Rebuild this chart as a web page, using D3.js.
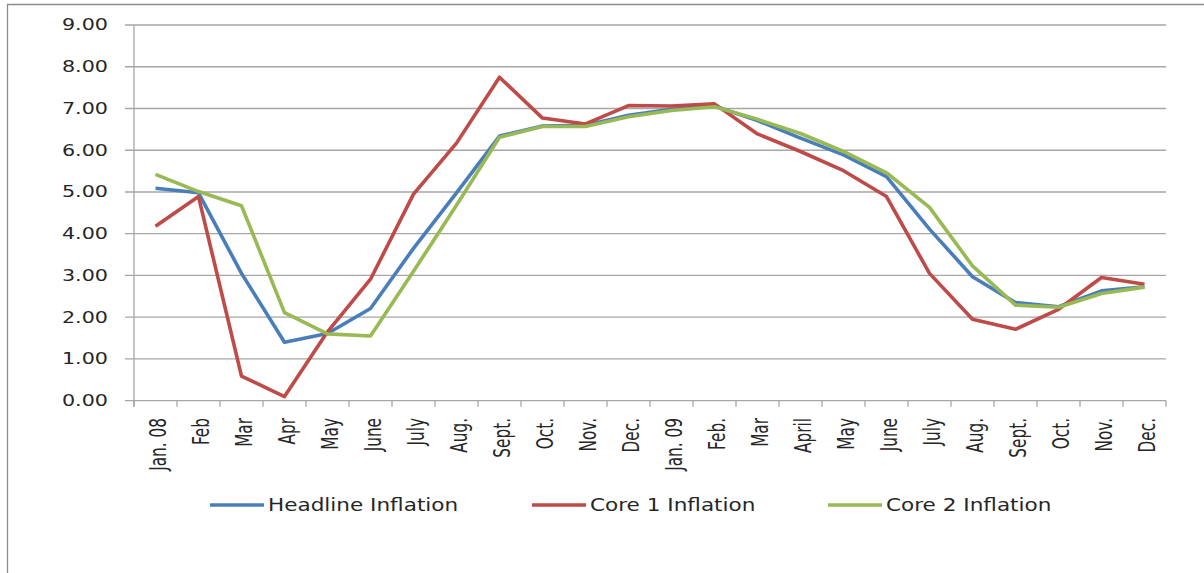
<!DOCTYPE html>
<html>
<head>
<meta charset="utf-8">
<script src="https://cdn.jsdelivr.net/npm/d3@7/dist/d3.min.js"></script>
<style>
  html, body { margin: 0; padding: 0; background: #fff; }
  svg { display: block; }
  text { font-family: "DejaVu Sans", Verdana, sans-serif; fill: #262626; }
</style>
</head>
<body>
<svg id="chart" width="1204" height="573"></svg>
<script>
const categories = ["Jan. 08","Feb","Mar","Apr","May","June","July","Aug.","Sept.","Oct.","Nov.","Dec.",
                    "Jan. 09","Feb.","Mar","April","May","June","July","Aug.","Sept.","Oct.","Nov.","Dec."];
const headline = [5.09,4.98,3.05,1.40,1.61,2.21,3.65,4.98,6.34,6.58,6.60,6.84,
                  6.98,7.06,6.71,6.29,5.89,5.37,4.11,2.97,2.35,2.25,2.63,2.73];
const core1    = [4.18,4.89,0.59,0.10,1.65,2.91,4.95,6.17,7.75,6.77,6.63,7.07,
                  7.06,7.11,6.39,5.97,5.51,4.89,3.05,1.95,1.71,2.19,2.95,2.79];
const core2    = [5.42,5.01,4.67,2.11,1.60,1.55,3.10,4.68,6.31,6.57,6.57,6.80,
                  6.95,7.04,6.74,6.40,5.97,5.46,4.63,3.23,2.29,2.24,2.57,2.72];
const yTicks   = [0,1,2,3,4,5,6,7,8,9];
const seriesNames = ["Headline Inflation","Core 1 Inflation","Core 2 Inflation"];

const series = [
  {name: seriesNames[0], values: headline, color: "#4A7EBB"},
  {name: seriesNames[1], values: core1,    color: "#BE4B48"},
  {name: seriesNames[2], values: core2,    color: "#98B954"}
];

const svg = d3.select("#chart");
const pLeft = 134, pRight = 1166, pTop = 25, pBottom = 400.7;
const idx = categories.map((c, i) => i);
const x = d3.scaleBand().domain(idx).range([pLeft, pRight]);
const y = d3.scaleLinear().domain([0, 9]).range([pBottom, pTop]);

// outer frame
svg.append("line").attr("x1", 7).attr("x2", 1204).attr("y1", 4.5).attr("y2", 4.5)
  .attr("stroke", "#8c8c8c").attr("stroke-width", 1.3);
svg.append("line").attr("x1", 7.5).attr("x2", 7.5).attr("y1", 4).attr("y2", 573)
  .attr("stroke", "#8c8c8c").attr("stroke-width", 1.3);

// gridlines
svg.append("g").selectAll("line").data(yTicks).join("line")
  .attr("x1", pLeft - 9).attr("x2", pRight)
  .attr("y1", d => y(d)).attr("y2", d => y(d))
  .attr("stroke", "#a6a6a6").attr("stroke-width", 1.3);

// y axis line
svg.append("line").attr("x1", pLeft).attr("x2", pLeft).attr("y1", y(9)).attr("y2", y(0) + 6)
  .attr("stroke", "#a6a6a6").attr("stroke-width", 1.3);

// y labels
svg.append("g").selectAll("text").data(yTicks).join("text")
  .attr("transform", d => `translate(108,${y(d)}) scale(1.38,1)`)
  .attr("text-anchor", "end").attr("dy", "0.36em")
  .style("font-size", "15px")
  .text(d => d3.format(".2f")(d));

// x ticks at band boundaries
const boundaries = idx.map(i => x(i)).concat([pRight]);
svg.append("g").selectAll("line").data(boundaries).join("line")
  .attr("x1", d => d).attr("x2", d => d)
  .attr("y1", y(0)).attr("y2", y(0) + 6)
  .attr("stroke", "#a6a6a6").attr("stroke-width", 1.3);

// x labels (rotated)
svg.append("g").selectAll("text").data(idx).join("text")
  .attr("transform", i => `translate(${x(i) + x.bandwidth() / 2 + 2},418) scale(1.5,1) rotate(-90)`)
  .attr("text-anchor", "end").attr("dy", "0.36em")
  .style("font-size", "15.3px")
  .text(i => categories[i]);

// lines
const line = d3.line().x((d, i) => x(i) + x.bandwidth() / 2).y(d => y(d));
svg.append("g").selectAll("path").data(series).join("path")
  .attr("d", s => line(s.values))
  .attr("fill", "none")
  .attr("stroke", s => s.color)
  .attr("stroke-width", 3.6)
  .attr("stroke-linejoin", "round");

// legend
const legendX = [210, 532, 828];
const lg = svg.append("g").selectAll("g").data(series).join("g")
  .attr("transform", (s, i) => `translate(${legendX[i]},505)`);
lg.append("line").attr("x1", 0).attr("x2", 54).attr("y1", 0).attr("y2", 0)
  .attr("stroke", s => s.color).attr("stroke-width", 3.6);
lg.append("text")
  .attr("transform", "translate(58,0) scale(1.24,1)")
  .attr("dy", "0.36em")
  .style("font-size", "17.4px")
  .text(s => s.name);
</script>
</body>
</html>
